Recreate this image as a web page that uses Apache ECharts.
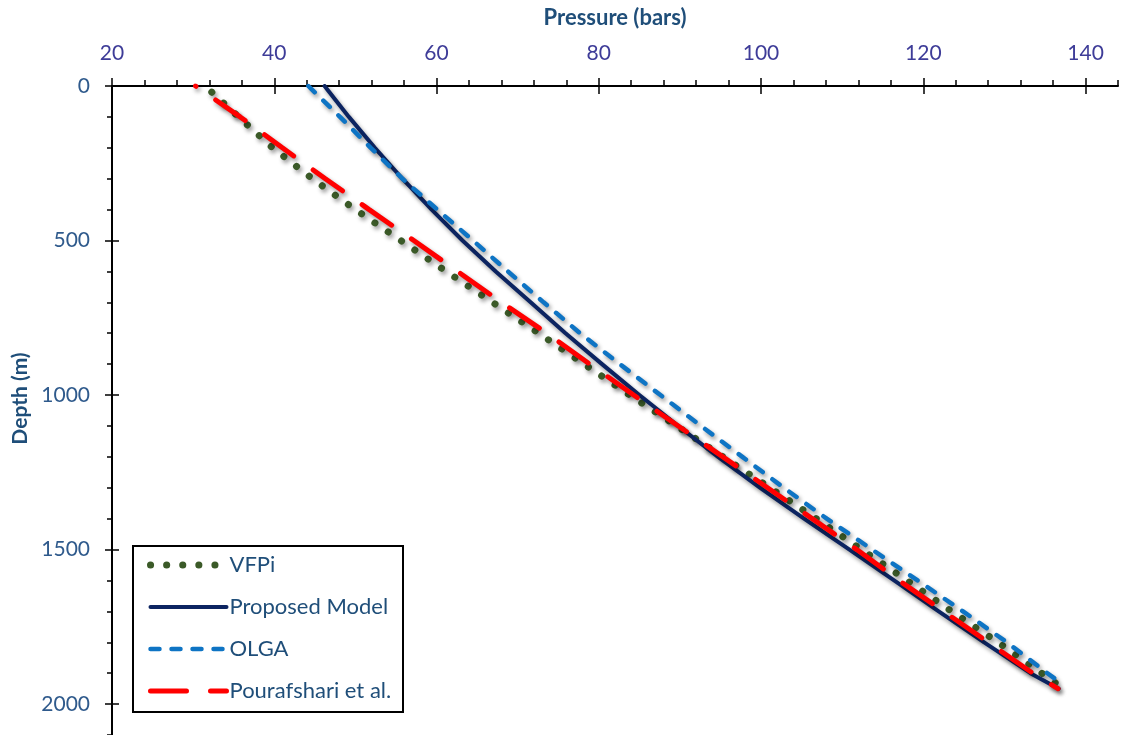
<!DOCTYPE html>
<html>
<head>
<meta charset="utf-8">
<title>Pressure vs Depth</title>
<script src="https://cdn.jsdelivr.net/npm/echarts@6/dist/echarts.min.js"></script>
<style>
  html, body { margin: 0; padding: 0; background: #ffffff; }
  #chart { width: 1121px; height: 735px; }
</style>
</head>
<body>
<div id="chart"></div>
<script>
// Pressure (bars) along the well at each depth (m)
const seriesNames = ['VFPi', 'Proposed Model', 'OLGA', 'Pourafshari et al.'];

const vfpiDepth    = [20, 100, 200, 300, 400, 500, 600, 700, 800, 900, 1000, 1100, 1200, 1300, 1400, 1500, 1600, 1700, 1800, 1900, 1945];
const vfpiPressure = [32.3, 35.6, 39.8, 44.7, 50.0, 55.6, 61.2, 66.9, 72.6, 78.2, 83.8, 89.6, 95.3, 101.1, 106.8, 112.4, 118.0, 123.5, 129.2, 134.6, 137.0];

const modelDepth    = [0, 100, 200, 300, 400, 500, 600, 700, 800, 900, 1000, 1100, 1200, 1300, 1400, 1500, 1600, 1700, 1800, 1900, 1950];
const modelPressure = [46.2, 49.2, 52.4, 55.8, 59.4, 63.2, 67.3, 71.6, 75.9, 80.4, 85.0, 89.8, 94.7, 99.9, 105.3, 110.9, 116.4, 121.9, 127.5, 133.2, 136.7];

const olgaDepth    = [0, 100, 200, 300, 400, 500, 600, 700, 800, 900, 1000, 1100, 1200, 1300, 1400, 1500, 1600, 1700, 1800, 1900, 1935];
const olgaPressure = [44.2, 48.1, 51.9, 55.8, 60.1, 64.5, 68.8, 73.2, 77.7, 82.6, 87.6, 92.6, 97.7, 102.8, 108.1, 113.7, 119.3, 124.9, 130.3, 135.3, 137.1];

const pourDepth    = [0, 100, 200, 300, 400, 500, 600, 700, 800, 900, 1000, 1100, 1200, 1300, 1400, 1500, 1600, 1700, 1800, 1900, 1950];
const pourPressure = [30.3, 35.8, 41.0, 46.3, 51.7, 57.2, 62.6, 68.0, 73.6, 78.9, 84.3, 89.8, 95.3, 100.8, 106.3, 111.8, 117.0, 122.5, 128.0, 133.5, 136.6];

// Axis tick labels
const pressureTicks = [20, 40, 60, 80, 100, 120, 140];
const depthTicks = [0, 500, 1000, 1500, 2000];

const toPairs = (depth, pressure) => depth.map((d, i) => [pressure[i], d]);

const shadow = {
  shadowColor: 'rgba(0,0,0,0.4)',
  shadowBlur: 4,
  shadowOffsetX: 2,
  shadowOffsetY: 3
};

const FONT = 'Lato, "Noto Sans", sans-serif';
const X_MIN = 20, X_MAX = 144, Y_MIN = 0, Y_MAX = 2100;

function baseX(extra) {
  return Object.assign({
    type: 'value', position: 'top', min: X_MIN, max: X_MAX, offset: 0,
    splitLine: { show: false }, axisLine: { show: false },
    axisLabel: { show: false }, axisTick: { show: false }
  }, extra);
}
function baseY(extra) {
  return Object.assign({
    type: 'value', position: 'left', inverse: true, min: Y_MIN, max: Y_MAX, offset: 0,
    splitLine: { show: false }, axisLine: { show: false },
    axisLabel: { show: false }, axisTick: { show: false }
  }, extra);
}

const chart = echarts.init(document.getElementById('chart'), null, { renderer: 'canvas' });

chart.setOption({
  animation: false,
  backgroundColor: '#ffffff',
  grid: { left: 112, right: 1.5, top: 86, bottom: -3, containLabel: false },
  xAxis: [
    baseX({
      interval: 4,
      name: 'Pressure (bars)',
      nameLocation: 'middle',
      nameGap: 57,
      nameTextStyle: { color: '#1F4E79', fontSize: 22, fontWeight: 'bold', fontFamily: FONT },
      axisLine: { show: true, lineStyle: { color: '#000000', width: 2 } },
      axisTick: { show: true, inside: false, length: 6, lineStyle: { color: '#000000', width: 1.5 } },
      axisLabel: {
        show: true, margin: 22, color: '#3E3C98', fontSize: 21, fontFamily: FONT,
        formatter: v => (pressureTicks.indexOf(v) >= 0 ? String(v) : '')
      }
    }),
    baseX({ interval: 20, axisTick: { show: true, inside: false, length: 8, customValues: pressureTicks, lineStyle: { color: '#000000', width: 1.5 } } }),
    baseX({ interval: 20, axisTick: { show: true, inside: true, length: 8, customValues: pressureTicks, lineStyle: { color: '#000000', width: 1.5 } } })
  ],
  yAxis: [
    baseY({
      interval: 100,
      name: 'Depth (m)',
      nameLocation: 'middle',
      nameGap: 78,
      nameTextStyle: { color: '#1F4E79', fontSize: 21, fontWeight: 'bold', fontFamily: FONT, padding: [0, 0, 0, 24] },
      axisLine: { show: true, lineStyle: { color: '#000000', width: 2 } },
      axisTick: { show: true, inside: false, length: 5, lineStyle: { color: '#000000', width: 1.5 } },
      axisLabel: {
        show: true, margin: 22, color: '#2F5A8C', fontSize: 21, fontFamily: FONT,
        formatter: v => (depthTicks.indexOf(v) >= 0 ? String(v) : '')
      }
    }),
    baseY({ interval: 500, axisTick: { show: true, inside: false, length: 7, customValues: depthTicks, lineStyle: { color: '#000000', width: 1.5 } } }),
    baseY({ interval: 500, axisTick: { show: true, inside: true, length: 7, customValues: depthTicks, lineStyle: { color: '#000000', width: 1.5 } } })
  ],
  graphic: [{
    type: 'rect', z: 1,
    shape: { x: 133, y: 546, width: 270, height: 166 },
    style: { fill: '#ffffff', stroke: '#000000', lineWidth: 2 }
  }],
  legend: {
    orient: 'vertical',
    left: 147, top: 553,
    padding: 0,
    itemWidth: 76, itemHeight: 12, itemGap: 18,
    z: 5,
    textStyle: { color: '#1F4E79', fontSize: 22, lineHeight: 24, fontFamily: FONT, padding: [0, 0, 0, -2] },
    itemStyle: { opacity: 0 },
    lineStyle: { width: 'inherit', dashOffset: 0, shadowBlur: 0, shadowOffsetX: 0, shadowOffsetY: 0, shadowColor: 'rgba(0,0,0,0)' },
    data: seriesNames
  },
  series: [
    {
      name: seriesNames[0], type: 'line', symbol: 'none', z: 2,
      data: toPairs(vfpiDepth, vfpiPressure),
      lineStyle: Object.assign({ color: '#3B5A28', width: 7, type: [0.1, 16], cap: 'round' }, shadow),
      itemStyle: { color: '#3B5A28' }
    },
    {
      name: seriesNames[1], type: 'line', symbol: 'none', z: 3,
      data: toPairs(modelDepth, modelPressure),
      lineStyle: Object.assign({ color: '#0C2461', width: 4, type: 'solid', cap: 'round', join: 'round' }, shadow),
      itemStyle: { color: '#0C2461' }
    },
    {
      name: seriesNames[2], type: 'line', symbol: 'none', z: 4,
      data: toPairs(olgaDepth, olgaPressure),
      lineStyle: Object.assign({ color: '#0E74C4', width: 4.5, type: [9, 12], cap: 'round' }, shadow),
      itemStyle: { color: '#0E74C4' }
    },
    {
      name: seriesNames[3], type: 'line', symbol: 'none', z: 5,
      data: toPairs(pourDepth, pourPressure),
      lineStyle: Object.assign({ color: '#FF0000', width: 5, type: [36, 24], dashOffset: 35.5, cap: 'round' }, shadow),
      itemStyle: { color: '#FF0000' }
    }
  ]
});
</script>
</body>
</html>
